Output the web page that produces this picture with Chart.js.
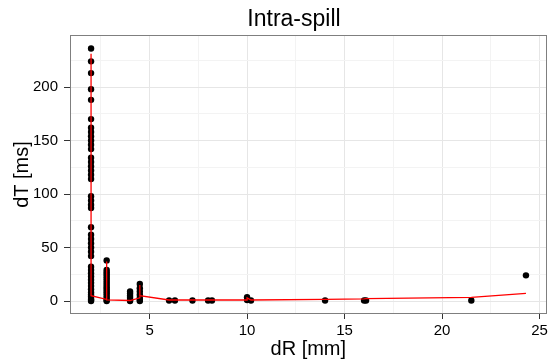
<!DOCTYPE html>
<html>
<head>
<meta charset="utf-8">
<script src="https://cdn.jsdelivr.net/npm/chart.js@4/dist/chart.umd.min.js"></script>
<style>
  html, body { margin: 0; padding: 0; background: #fff; }
</style>
</head>
<body>
<canvas id="chart" width="551" height="361"></canvas>
<script>
// dR columns and the dT values measured at each one
const groupX = [2.0, 2.8, 4.0, 4.5, 6.0, 6.3, 7.2, 8.0, 8.2, 10.0, 10.2, 14.0, 16.0, 16.1, 21.5, 24.3];
const groupY = [
  [236, 224, 213, 198, 188, 170, 162, 158, 154, 150, 146, 142, 134, 130, 126, 122, 118, 114,
   98, 94, 90, 87, 69, 62, 58, 54, 50, 46, 42, 32, 29, 26, 23, 20, 17, 14, 11, 8, 6, 4, 2, 1, 0],
  [38, 29, 27, 25, 23, 21, 19, 17, 15, 13, 11, 9, 7, 5, 3, 1, 0],
  [9, 7, 5, 3, 1, 0],
  [16, 12, 9, 6, 3, 1, 0],
  [0.5], [0.5], [0.5], [0.5], [0.5],
  [3.5, 1], [0.5], [0.5], [0.5], [0.5], [0.5],
  [24]
];

// red fitted line
const fitX = [2.0, 2.0, 2.8, 2.8, 2.8, 4.0, 4.5, 4.5, 4.5, 6.0, 6.3, 7.2, 8.0, 8.2, 10.0, 10.0, 10.2, 14.0, 16.0, 16.1, 21.5, 24.3];
const fitY = [231, 5, 1.5, 37, 1, 0.5, 3, 15, 5, 1, 1, 1, 1, 1, 1, 3, 1, 1.6, 2.1, 2.2, 3.5, 7.2];

const xTicks = [2.5, 5, 7.5, 10, 12.5, 15, 17.5, 20, 22.5, 25];
const yTicks = [0, 25, 50, 75, 100, 125, 150, 175, 200, 225];

const points = [];
groupX.forEach((x, i) => groupY[i].forEach(y => points.push({x: x, y: y})));
const fit = fitX.map((x, i) => ({x: x, y: fitY[i]}));

const isMajorX = v => v % 5 === 0;
const isMajorY = v => v % 50 === 0;

const frame = {
  id: 'frame',
  afterDraw(chart) {
    const {ctx, chartArea: a} = chart;
    ctx.save();
    ctx.strokeStyle = '#7f7f7f';
    ctx.lineWidth = 1;
    ctx.strokeRect(Math.round(a.left) + 0.5, Math.round(a.top) + 0.5,
      Math.round(a.right - a.left) - 1, Math.round(a.bottom - a.top) - 1);
    ctx.fillStyle = '#000';
    ctx.font = '23px "Liberation Sans", Arial, sans-serif';
    ctx.textAlign = 'center';
    ctx.textBaseline = 'middle';
    ctx.fillText('Intra-spill', 294, 20);
    ctx.restore();
  }
};

new Chart('chart', {
  type: 'scatter',
  data: {
    datasets: [{
      data: fit,
      showLine: true,
      borderColor: '#ff0000',
      borderWidth: 1.3,
      pointRadius: 0,
      fill: false
    }, {
      data: points,
      backgroundColor: '#000',
      borderColor: '#000',
      pointRadius: 3.2,
      borderWidth: 0
    }]
  },
  options: {
    responsive: false,
    animation: false,
    layout: { padding: { left: 0, right: 2, top: 35, bottom: 0 } },
    plugins: { legend: { display: false }, tooltip: { enabled: false } },
    scales: {
      x: {
        type: 'linear',
        min: 0.92,
        max: 25.36,
        afterBuildTicks: s => { s.ticks = xTicks.map(v => ({value: v})); },
        afterFit: s => { s.height = 47; },
        border: { display: false },
        grid: {
          color: c => isMajorX(c.tick.value) ? '#e6e6e6' : '#f3f3f3',
          tickColor: c => isMajorX(c.tick.value) ? '#333' : 'rgba(0,0,0,0)',
          tickLength: 5
        },
        ticks: {
          autoSkip: false,
          maxRotation: 0,
          padding: 3,
          color: '#000',
          font: { family: '"Liberation Sans", Arial, sans-serif', size: 15 },
          callback: v => isMajorX(v) ? v : ''
        },
        title: {
          display: true,
          text: 'dR [mm]',
          color: '#000',
          padding: 0,
          font: { family: '"Liberation Sans", Arial, sans-serif', size: 20 }
        }
      },
      y: {
        min: -12.1,
        max: 248.6,
        afterBuildTicks: s => { s.ticks = yTicks.map(v => ({value: v})); },
        afterFit: s => { s.width = 70; },
        border: { display: false },
        grid: {
          color: c => isMajorY(c.tick.value) ? '#e6e6e6' : '#f3f3f3',
          tickColor: c => isMajorY(c.tick.value) ? '#333' : 'rgba(0,0,0,0)',
          tickLength: 6
        },
        ticks: {
          autoSkip: false,
          padding: 6,
          color: '#000',
          font: { family: '"Liberation Sans", Arial, sans-serif', size: 15 },
          callback: v => isMajorY(v) ? v : ''
        },
        title: {
          display: true,
          text: 'dT [ms]',
          color: '#000',
          padding: { top: 10, bottom: 0 },
          font: { family: '"Liberation Sans", Arial, sans-serif', size: 20 }
        }
      }
    }
  },
  plugins: [frame]
});
</script>
</body>
</html>
